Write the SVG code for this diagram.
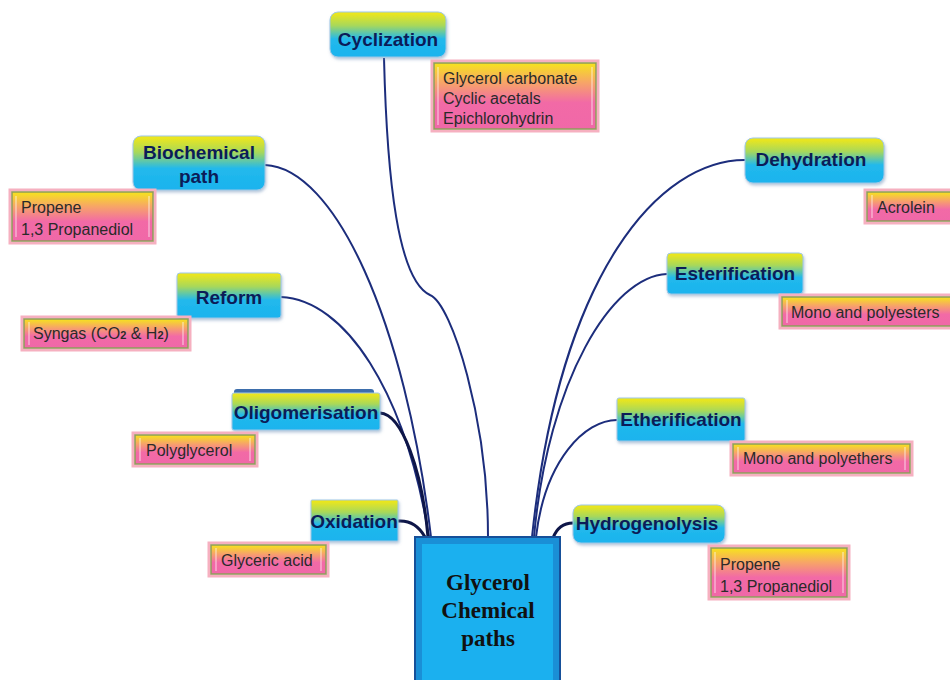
<svg xmlns="http://www.w3.org/2000/svg" width="950" height="680" viewBox="0 0 950 680">
<defs>
<linearGradient id="gNode" x1="0" y1="0" x2="0" y2="1">
<stop offset="0" stop-color="#f4e816"/>
<stop offset="0.3" stop-color="#a8d85a"/>
<stop offset="0.6" stop-color="#22b9ec"/>
<stop offset="1" stop-color="#1ab3ee"/>
</linearGradient>
<linearGradient id="gProd" x1="0" y1="0" x2="0" y2="1">
<stop offset="0" stop-color="#f6e41c"/>
<stop offset="0.3" stop-color="#f7a468"/>
<stop offset="0.6" stop-color="#f26aa6"/>
<stop offset="1" stop-color="#f068a8"/>
</linearGradient>
<filter id="sh" x="-10%" y="-10%" width="120%" height="130%">
<feDropShadow dx="1" dy="2" stdDeviation="1.5" flood-color="#6a8fb8" flood-opacity="0.5"/>
</filter>
</defs>
<style>
.node{fill:url(#gNode);stroke:#9ec7e6;stroke-width:1;filter:url(#sh)}
.nt{font-family:"Liberation Sans",Arial,sans-serif;font-weight:bold;font-size:19px;fill:#0b1c58;text-anchor:middle}
.prod{fill:url(#gProd);stroke:#8f9c5a;stroke-width:1.5}
.halo{fill:none;stroke:#f6b0c0;stroke-width:3}
.pt{font-family:"Liberation Sans",Arial,sans-serif;font-size:16px;fill:#2a2a2a}
.bev{stroke:#ffffff;stroke-opacity:0.6;stroke-width:1.2}
.con{fill:none;stroke:#1c2d7c;stroke-width:2}
.conk{fill:none;stroke:#0e1648;stroke-width:3}
.ct{font-family:"Liberation Serif","Times New Roman",serif;font-weight:bold;font-size:23px;fill:#111;text-anchor:middle}
</style>

<g id="connectors">
<path class="con" d="M384 58 C387 180 398 280 430 295 C452 304 488 420 488 537"/>
<path class="con" d="M265 165 C335 168 405 320 431 537"/>
<path class="con" d="M281 297 C345 300 405 390 429 537"/>
<path class="conk" d="M380 413 C402 414 422 470 428 537"/>
<path class="conk" d="M398 521 C412 520 420 528 425 537"/>
<path class="con" d="M745 160 C660 160 560 270 532 537"/>
<path class="con" d="M667 274 C612 276 548 380 534 537"/>
<path class="con" d="M617 420 C585 420 545 460 536 537"/>
<path class="conk" d="M573 523 C562 523 556 530 553 538"/>
</g>

<g id="center">
<rect x="415" y="537" width="145" height="150" fill="#1a8fd6" stroke="#16509a" stroke-width="2"/>
<rect x="422" y="544" width="131" height="140" fill="#1bb0ef"/>
<text class="ct" x="488" y="590">Glycerol</text>
<text class="ct" x="488" y="618">Chemical</text>
<text class="ct" x="488" y="646">paths</text>
</g>

<g id="cyclization">
<rect class="node" x="330" y="12" width="116" height="45" rx="8"/>
<text class="nt" x="388" y="46">Cyclization</text>
</g>
<g id="cyclization-products">
<rect class="halo" x="432" y="61" width="166" height="70"/>
<rect class="prod" x="434" y="63" width="162" height="66"/>
<line class="bev" x1="438" y1="67" x2="438" y2="125"/><line class="bev" x1="592" y1="67" x2="592" y2="125"/>
<text class="pt" x="443" y="84">Glycerol  carbonate</text>
<text class="pt" x="443" y="104">Cyclic acetals</text>
<text class="pt" x="443" y="124">Epichlorohydrin</text>
</g>

<g id="biochemical">
<rect class="node" x="133" y="136" width="132" height="54" rx="8"/>
<text class="nt" x="199" y="159">Biochemical</text>
<text class="nt" x="199" y="183">path</text>
</g>
<g id="biochemical-products">
<rect class="halo" x="10" y="190" width="145" height="53"/>
<rect class="prod" x="12" y="192" width="141" height="49"/>
<line class="bev" x1="16" y1="196" x2="16" y2="237"/><line class="bev" x1="149" y1="196" x2="149" y2="237"/>
<text class="pt" x="21" y="213">Propene</text>
<text class="pt" x="21" y="235">1,3 Propanediol</text>
</g>

<g id="reform">
<rect class="node" x="177" y="273" width="104" height="45" rx="3"/>
<text class="nt" x="229" y="304">Reform</text>
</g>
<g id="reform-products">
<rect class="halo" x="22" y="317" width="168" height="33"/>
<rect class="prod" x="24" y="319" width="164" height="29"/>
<line class="bev" x1="29" y1="322" x2="29" y2="345"/><line class="bev" x1="183" y1="322" x2="183" y2="345"/>
<text class="pt" x="33" y="339">Syngas (CO<tspan font-size="11" font-weight="bold">2</tspan> &amp; H<tspan font-size="11" font-weight="bold">2</tspan>)</text>
</g>

<g id="oligomerisation">
<rect x="234" y="389" width="140" height="9" rx="3" fill="#3d6eac"/>
<rect class="node" x="232" y="393" width="148" height="37" rx="2"/>
<text class="nt" x="306" y="419">Oligomerisation</text>
</g>
<g id="oligomerisation-products">
<rect class="halo" x="133" y="433" width="124" height="33"/>
<rect class="prod" x="135" y="435" width="120" height="29"/>
<line class="bev" x1="140" y1="438" x2="140" y2="461"/><line class="bev" x1="250" y1="438" x2="250" y2="461"/>
<text class="pt" x="146" y="456">Polyglycerol</text>
</g>

<g id="oxidation">
<rect class="node" x="311" y="500" width="87" height="41" rx="1"/>
<text class="nt" x="354" y="528">Oxidation</text>
</g>
<g id="oxidation-products">
<rect class="halo" x="209" y="543" width="119" height="33"/>
<rect class="prod" x="211" y="545" width="115" height="29"/>
<line class="bev" x1="216" y1="548" x2="216" y2="571"/><line class="bev" x1="321" y1="548" x2="321" y2="571"/>
<text class="pt" x="221" y="566">Glyceric  acid</text>
</g>

<g id="dehydration">
<rect class="node" x="745" y="138" width="139" height="45" rx="8"/>
<text class="nt" x="811" y="166">Dehydration</text>
</g>
<g id="dehydration-products">
<rect class="halo" x="865" y="190" width="90" height="33"/>
<rect class="prod" x="867" y="192" width="88" height="29"/>
<line class="bev" x1="872" y1="195" x2="872" y2="218"/>
<text class="pt" x="877" y="213">Acrolein</text>
</g>

<g id="esterification">
<rect class="node" x="667" y="253" width="136" height="41" rx="4"/>
<text class="nt" x="735" y="280">Esterification</text>
</g>
<g id="esterification-products">
<rect class="halo" x="780" y="295" width="175" height="33"/>
<rect class="prod" x="782" y="297" width="173" height="29"/>
<line class="bev" x1="787" y1="300" x2="787" y2="323"/>
<text class="pt" x="791" y="318">Mono and polyesters</text>
</g>

<g id="etherification">
<rect class="node" x="617" y="398" width="128" height="43" rx="2"/>
<text class="nt" x="681" y="426">Etherification</text>
</g>
<g id="etherification-products">
<rect class="halo" x="731" y="442" width="181" height="33"/>
<rect class="prod" x="733" y="444" width="177" height="29"/>
<line class="bev" x1="738" y1="447" x2="738" y2="470"/><line class="bev" x1="905" y1="447" x2="905" y2="470"/>
<text class="pt" x="743" y="464">Mono and polyethers</text>
</g>

<g id="hydrogenolysis">
<rect class="node" x="573" y="505" width="152" height="38" rx="8"/>
<text class="nt" x="647" y="530">Hydrogenolysis</text>
</g>
<g id="hydrogenolysis-products">
<rect class="halo" x="709" y="546" width="140" height="53"/>
<rect class="prod" x="711" y="548" width="136" height="49"/>
<line class="bev" x1="715" y1="552" x2="715" y2="593"/><line class="bev" x1="843" y1="552" x2="843" y2="593"/>
<text class="pt" x="720" y="570">Propene</text>
<text class="pt" x="720" y="592">1,3 Propanediol</text>
</g>
</svg>
